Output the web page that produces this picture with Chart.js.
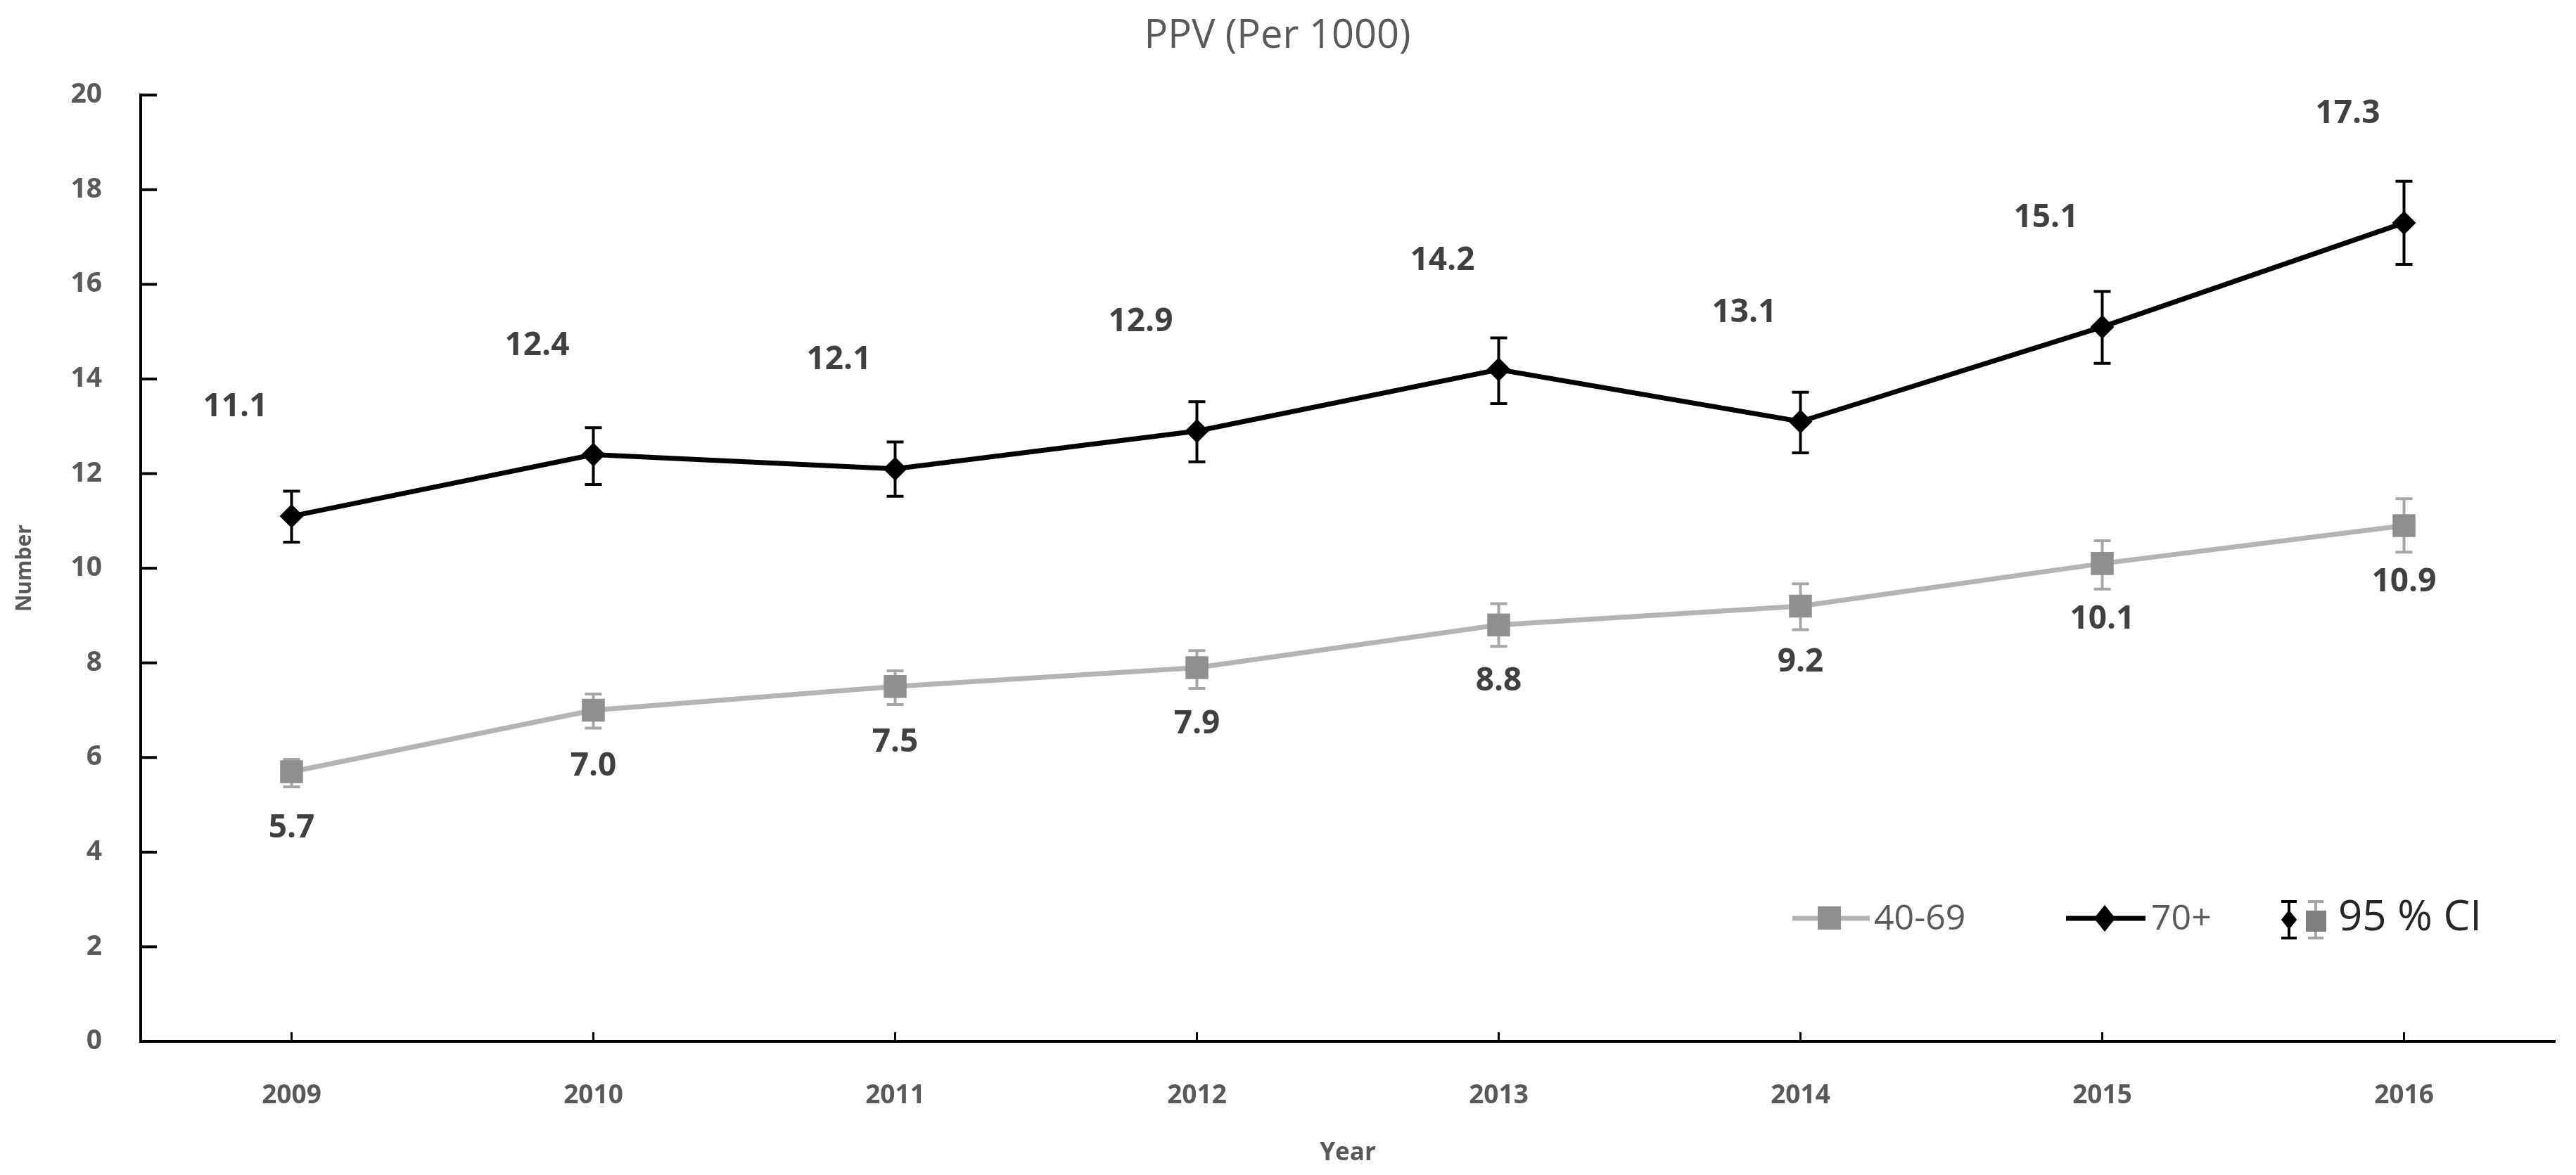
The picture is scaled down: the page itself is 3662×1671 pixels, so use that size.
<!DOCTYPE html>
<html>
<head>
<meta charset="utf-8">
<script src="https://cdn.jsdelivr.net/npm/chart.js@4.4.1/dist/chart.umd.min.js"></script>
<style>
  html, body { margin: 0; padding: 0; background: #fff; }
</style>
</head>
<body>
<canvas id="myChart" width="3662" height="1671"></canvas>
<script>
// chart data
let years = ['2009', '2010', '2011', '2012', '2013', '2014', '2015', '2016'];
let yTicks = [0, 2, 4, 6, 8, 10, 12, 14, 16, 18, 20];

// 40-69 group, with 95% CI
let ppvMid = [5.7, 7.0, 7.5, 7.9, 8.8, 9.2, 10.1, 10.9];
let ppvMidLow = [5.38, 6.62, 7.12, 7.46, 8.35, 8.7, 9.56, 10.34];
let ppvMidHigh = [5.96, 7.34, 7.83, 8.26, 9.25, 9.67, 10.58, 11.47];

// 70+ group
let ppvOld = [11.1, 12.4, 12.1, 12.9, 14.2, 13.1, 15.1, 17.3];
let ppvOldLow = [10.55, 11.77, 11.52, 12.25, 13.48, 12.44, 14.33, 16.42];
let ppvOldHigh = [11.63, 12.97, 12.67, 13.52, 14.87, 13.72, 15.85, 18.18];

const FONT = '"Open Sans", "Liberation Sans", sans-serif';
const GRAY_LINE = '#b4b4b4';
const GRAY_MARK = '#8f8f8f';
const GRAY_BAR = '#a6a6a6';

// error bars, drawn under the markers
const errorBars = {
    id: 'errorBars',
    beforeDatasetsDraw(chart) {
        const c = chart.ctx;
        const y = chart.scales.y;
        chart.data.datasets.forEach((ds, di) => {
            const meta = chart.getDatasetMeta(di);
            c.save();
            c.strokeStyle = ds.barColor;
            c.lineWidth = 4;
            meta.data.forEach((pt, i) => {
                const top = y.getPixelForValue(ds.high[i]);
                const bot = y.getPixelForValue(ds.low[i]);
                c.beginPath();
                c.moveTo(pt.x, top); c.lineTo(pt.x, bot);
                c.moveTo(pt.x - 12, top); c.lineTo(pt.x + 12, top);
                c.moveTo(pt.x - 12, bot); c.lineTo(pt.x + 12, bot);
                c.stroke();
            });
            c.restore();
        });
    }
};

// value labels
const valueLabels = {
    id: 'valueLabels',
    afterDatasetsDraw(chart) {
        const c = chart.ctx;
        c.save();
        c.font = 'bold 46px ' + FONT;
        c.fillStyle = '#404040';
        c.textAlign = 'center';
        c.textBaseline = 'middle';
        chart.data.datasets.forEach((ds, di) => {
            const meta = chart.getDatasetMeta(di);
            meta.data.forEach((pt, i) => {
                c.fillText(ds.data[i].toFixed(1), pt.x + ds.labelDx, pt.y + ds.labelDy);
            });
        });
        c.restore();
    }
};

// tick marks pointing inward
const innerTicks = {
    id: 'innerTicks',
    afterDraw(chart) {
        const c = chart.ctx;
        const {x, y} = chart.scales;
        const area = chart.chartArea;
        c.save();
        c.strokeStyle = '#000';
        c.lineWidth = 4;
        yTicks.forEach(v => {
            const py = y.getPixelForValue(v);
            c.beginPath(); c.moveTo(area.left, py); c.lineTo(area.left + 23, py); c.stroke();
        });
        c.lineWidth = 3;
        years.forEach((yr, i) => {
            const px = x.getPixelForValue(i);
            c.beginPath(); c.moveTo(px, area.bottom); c.lineTo(px, area.bottom - 13); c.stroke();
        });
        c.restore();
    }
};

function diamond(c, x, y, r) {
    c.beginPath();
    c.moveTo(x, y - r); c.lineTo(x + r * 0.8, y); c.lineTo(x, y + r); c.lineTo(x - r * 0.8, y);
    c.closePath(); c.fill();
}

function errBar(c, x, top, bot, color) {
    c.strokeStyle = color;
    c.lineWidth = 4;
    c.beginPath();
    c.moveTo(x, top); c.lineTo(x, bot);
    c.moveTo(x - 11, top); c.lineTo(x + 11, top);
    c.moveTo(x - 11, bot); c.lineTo(x + 11, bot);
    c.stroke();
}

// legend inside the plot, bottom right
const cornerLegend = {
    id: 'cornerLegend',
    afterDraw(chart) {
        const c = chart.ctx;
        const ly = 1306;
        c.save();
        c.textBaseline = 'middle';
        c.textAlign = 'left';

        c.strokeStyle = GRAY_LINE; c.lineWidth = 7;
        c.beginPath(); c.moveTo(2548, ly); c.lineTo(2658, ly); c.stroke();
        c.fillStyle = GRAY_MARK;
        c.fillRect(2584, ly - 17, 33, 33);
        c.fillStyle = '#595959';
        c.font = '50px ' + FONT;
        c.fillText('40-69', 2664, ly + 2);

        c.strokeStyle = '#000'; c.lineWidth = 7;
        c.beginPath(); c.moveTo(2937, ly); c.lineTo(3050, ly); c.stroke();
        c.fillStyle = '#000';
        diamond(c, 2992, ly, 19);
        c.fillStyle = '#595959';
        c.fillText('70+', 3058, ly + 2);

        errBar(c, 3254, ly - 24, ly + 28, '#000');
        c.fillStyle = '#000';
        diamond(c, 3254, ly + 2, 14);
        errBar(c, 3292, ly - 24, ly + 28, GRAY_BAR);
        c.fillStyle = '#7f7f7f';
        c.fillRect(3278, ly - 11, 29, 30);
        c.fillStyle = '#262626';
        c.font = '60px ' + FONT;
        c.fillText('95 % CI', 3324, ly);
        c.restore();
    }
};

let ctx = document.getElementById('myChart');

let myChart = new Chart(ctx, {
    type: 'line',
    data: {
        labels: years,
        datasets: [{
            label: '40-69',
            data: ppvMid,
            low: ppvMidLow,
            high: ppvMidHigh,
            barColor: GRAY_BAR,
            labelDx: 0,
            labelDy: 80,
            borderColor: GRAY_LINE,
            borderWidth: 7,
            pointStyle: 'rect',
            pointRadius: 23,
            pointBackgroundColor: GRAY_MARK,
            pointBorderWidth: 0,
            tension: 0
        }, {
            label: '70+',
            data: ppvOld,
            low: ppvOldLow,
            high: ppvOldHigh,
            barColor: '#000',
            labelDx: -80,
            labelDy: -155,
            borderColor: '#000',
            borderWidth: 7,
            pointStyle: 'rectRot',
            pointRadius: 17,
            pointBackgroundColor: '#000',
            pointBorderWidth: 0,
            tension: 0
        }]
    },
    options: {
        responsive: false,
        animation: false,
        devicePixelRatio: 1,
        layout: {padding: {left: 0, right: 30, top: 0, bottom: 0}},
        plugins: {
            legend: {display: false},
            tooltip: {enabled: false},
            title: {
                display: true,
                text: 'PPV (Per 1000)',
                color: '#595959',
                font: {family: FONT, size: 56, weight: 'normal'},
                padding: {top: 18, bottom: 50}
            }
        },
        scales: {
            x: {
                offset: true,
                grid: {display: false, drawTicks: false},
                border: {display: true, color: '#000', width: 4},
                ticks: {color: '#595959', padding: 55, font: {family: FONT, size: 37, weight: 'bold'}},
                title: {display: true, text: 'Year', color: '#595959',
                    font: {family: FONT, size: 35, weight: 'bold'}, padding: {top: 0, bottom: 10}},
                afterFit: s => { s.height = 190; }
            },
            y: {
                min: 0,
                max: 20,
                grid: {display: false, drawTicks: false},
                border: {display: true, color: '#000', width: 4},
                ticks: {stepSize: 2, color: '#595959', padding: 55, font: {family: FONT, size: 39, weight: 'bold'}},
                title: {display: true, text: 'Number', color: '#595959',
                    font: {family: FONT, size: 30, weight: 'bold'}, padding: {top: 17, bottom: 0}},
                afterFit: s => { s.width = 200; }
            }
        }
    },
    plugins: [errorBars, valueLabels, innerTicks, cornerLegend]
});
</script>
</body>
</html>
